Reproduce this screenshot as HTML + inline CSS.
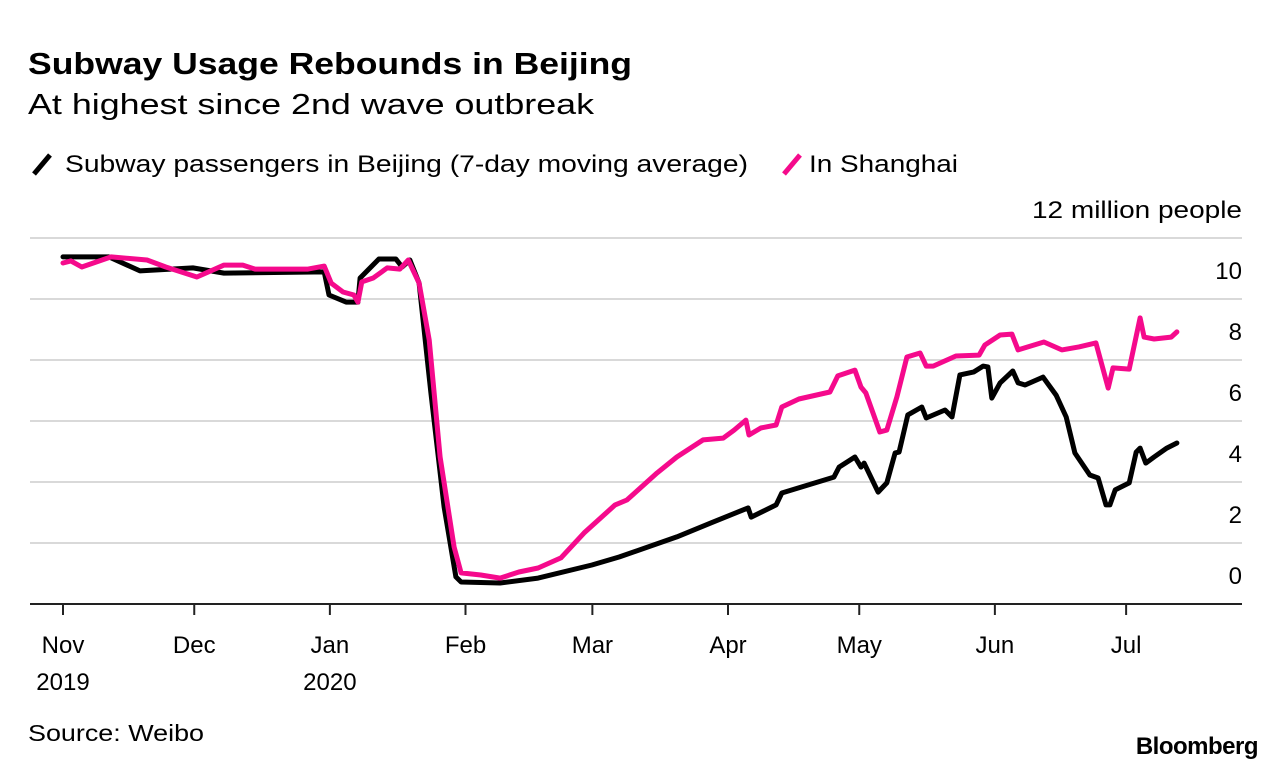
<!DOCTYPE html>
<html><head><meta charset="utf-8"><style>
body{margin:0;background:#fff;width:1286px;height:772px;overflow:hidden;font-family:"Liberation Sans",Arial,sans-serif;}
</style></head><body>
<svg width="1286" height="772" font-family="Liberation Sans, Arial, sans-serif">
<text x="28" y="74" font-size="31" font-weight="bold" fill="#000" textLength="604" lengthAdjust="spacingAndGlyphs">Subway Usage Rebounds in Beijing</text>
<text x="28" y="114" font-size="29" fill="#000" textLength="566" lengthAdjust="spacingAndGlyphs">At highest since 2nd wave outbreak</text>
<g>
<line x1="34" y1="174" x2="50" y2="155" stroke="#000" stroke-width="5"/>
<text x="65" y="172" font-size="24" textLength="683" lengthAdjust="spacingAndGlyphs">Subway passengers in Beijing (7-day moving average)</text></g>
<g>
<line x1="784" y1="174" x2="800" y2="155" stroke="#f50a8c" stroke-width="5"/>
<text x="809" y="172" font-size="24" textLength="149" lengthAdjust="spacingAndGlyphs">In Shanghai</text></g>
<text x="1242" y="218" font-size="24" text-anchor="end" textLength="210" lengthAdjust="spacingAndGlyphs">12 million people</text>
<g id="grid"></g><g id="xaxis"></g><g id="lines"></g>
<text x="28" y="741" font-size="23" textLength="176" lengthAdjust="spacingAndGlyphs">Source: Weibo</text>
<text x="1258" y="754" font-size="24" font-weight="bold" text-anchor="end" letter-spacing="-0.5">Bloomberg</text>
</svg>
<script>
const yTicks=[0,2,4,6,8,10,12];
const monthDays=[0,30,61,92,121,152,182,213,243];
const monthLabels=["Nov","Dec","Jan","Feb","Mar","Apr","May","Jun","Jul"];
const yearLabels=["2019","","2020","","","","","",""];
const bjDays=[0,10.5,17.6,29.7,36.8,59.7,60.8,64.7,67.4,67.9,72.2,76.1,77.5,79.3,81.4,84.1,87.1,89.8,91,99.9,108.6,120.9,127.1,140.3,148.1,154.3,156.6,157.3,163,164.3,176.2,177.4,181,182.4,183.1,186.3,188.3,190.2,191.1,193.1,196.3,197.3,201.6,203.2,205,208.2,210.3,211.4,212.3,214.2,217.1,218.3,219.9,224,227,229.3,231.3,234.7,236.6,238.4,239.3,240.5,243.7,245.3,246.2,247.5,249.4,252.3,254.6];
const bjVals=[11.38,11.38,10.92,11.02,10.85,10.89,10.13,9.9,9.9,10.69,11.31,11.31,11.05,11.28,10.52,6.92,3.18,0.89,0.72,0.69,0.85,1.28,1.54,2.2,2.66,3.02,3.15,2.85,3.25,3.64,4.16,4.49,4.82,4.49,4.62,3.67,3.97,4.95,4.98,6.2,6.46,6.1,6.36,6.13,7.51,7.61,7.8,7.77,6.75,7.25,7.64,7.25,7.18,7.44,6.85,6.13,4.95,4.23,4.13,3.25,3.25,3.74,3.97,4.98,5.11,4.62,4.82,5.11,5.28];
const shDays=[0,1.8,4.3,11,19.2,23.5,30.6,36.8,41.1,43.9,56,59.7,61.3,64,66.5,67.4,68.3,70.9,74.1,77,78.9,81.4,83.7,86.2,89.4,91,95.5,99.9,104.2,108.6,113.8,119.1,126.2,128.9,135.8,140.3,146.3,150.9,153.4,156.1,156.8,159.5,163,164.3,168.2,175.3,177.1,181,182.4,183.5,186.7,188.3,190.6,192.9,195.9,197.3,198.9,204.1,209.4,210.7,214.2,216.9,218.3,224.2,228.3,232.2,236.1,238.9,240,243.7,246.2,247.1,249.4,253.3,254.6];
const shVals=[11.18,11.25,11.05,11.38,11.28,11.05,10.72,11.11,11.11,10.98,10.98,11.08,10.52,10.23,10.13,9.9,10.56,10.69,11.02,10.98,11.28,10.52,8.66,4.82,1.87,1.02,0.95,0.85,1.05,1.18,1.51,2.33,3.25,3.41,4.3,4.82,5.38,5.44,5.7,6.03,5.54,5.77,5.87,6.46,6.72,6.95,7.48,7.67,7.11,6.92,5.64,5.7,6.79,8.1,8.23,7.8,7.8,8.13,8.16,8.49,8.82,8.85,8.33,8.59,8.33,8.43,8.56,7.08,7.74,7.7,9.38,8.75,8.69,8.75,8.92];
const NS="http://www.w3.org/2000/svg";
const xS=d=>63+d*4.375;
const yS=v=>604-v*30.5;
function mk(t,a,p){const e=document.createElementNS(NS,t);for(const k in a)e.setAttribute(k,a[k]);p.appendChild(e);return e;}
const grid=document.getElementById('grid');
yTicks.forEach(v=>{
  if(v>0){const l=mk('line',{x1:30,x2:1242,y1:yS(v),y2:yS(v),stroke:'#d9d9d9','stroke-width':2},grid);
  
  }
  if(v<12){const t=mk('text',{x:1242,y:yS(v)-20,'font-size':24,'text-anchor':'end'},grid);t.textContent=v;
  
  }
});
const xa=document.getElementById('xaxis');
const base=mk('line',{x1:30,x2:1242,y1:604,y2:604,stroke:'#222','stroke-width':2},xa);


monthDays.forEach((d,i)=>{
  const x=xS(d);
  const tk=mk('line',{x1:x,x2:x,y1:604,y2:615,stroke:'#222','stroke-width':2},xa);
  
  
  const t=mk('text',{x:x,y:653,'font-size':24,'text-anchor':'middle'},xa);t.textContent=monthLabels[i];
  
  
  if(yearLabels[i]){const y=mk('text',{x:x,y:690,'font-size':24,'text-anchor':'middle'},xa);y.textContent=yearLabels[i];
  
  }
});
const lg=document.getElementById('lines');
function line(days,vals,color,name){
  const pts=days.map((d,i)=>xS(d).toFixed(1)+','+yS(vals[i]).toFixed(1)).join(' ');
  const p=mk('polyline',{points:pts,fill:'none',stroke:color,'stroke-width':5,'stroke-linejoin':'round','stroke-linecap':'round'},lg);
  
  
}
line(bjDays,bjVals,'#000','beijing-line');
line(shDays,shVals,'#f50a8c','shanghai-line');
</script>
</body></html>
